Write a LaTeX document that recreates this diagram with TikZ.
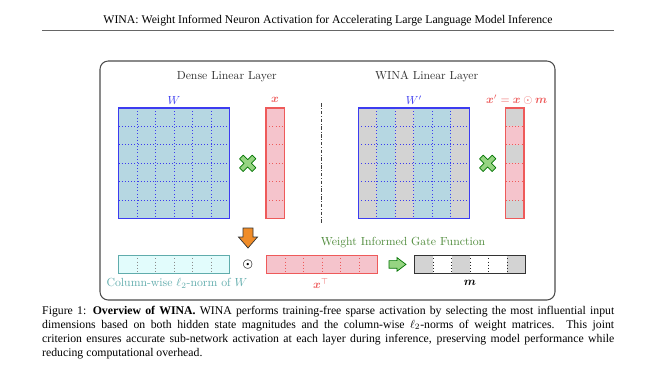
\documentclass[tikz,border=0pt]{standalone}
\usepackage{amsmath}
\usepackage{amsfonts}
\usepackage{bm}
\usepackage{fontspec}
\newfontfamily\timesfont{Liberation Serif}
\usetikzlibrary{positioning}

\definecolor{wblue}{RGB}{60,60,240}
\definecolor{wfill}{RGB}{182,215,226}
\definecolor{xred}{RGB}{238,90,90}
\definecolor{xfill}{RGB}{245,196,204}
\definecolor{maskgray}{RGB}{211,211,211}
\definecolor{normteal}{RGB}{96,172,172}
\definecolor{normfill}{RGB}{226,252,252}
\definecolor{gategreen}{RGB}{80,140,60}
\definecolor{crossfill}{RGB}{150,212,130}
\definecolor{arroworange}{RGB}{240,140,40}

\newlength\pxu
\setlength\pxu{0.851pt}

\tikzset{
  wmat/.style={draw=wblue,line width=0.9pt},
  wgrid/.style={wblue,dotted,line width=0.7pt},
  xmat/.style={draw=xred,line width=0.9pt},
  xgrid/.style={xred,dotted,line width=0.7pt},
  normmat/.style={draw=normteal,line width=0.9pt,fill=normfill},
  normgrid/.style={black!45,dotted,line width=0.7pt},
  mmat/.style={draw=black!80,line width=0.9pt},
  mgrid/.style={black!85,dotted,line width=0.7pt},
  mulsign/.style={draw=green!45!black,fill=crossfill,line width=0.6pt,line join=round},
  blockarrow/.style={line width=0.6pt,line join=miter}
}

% fat multiplication cross
\newcommand\timesmark[2]{%
  \draw[mulsign,shift={(#1,#2)},rotate=45]
    (-2.6,-9) -- (2.6,-9) -- (2.6,-2.6) -- (9,-2.6) -- (9,2.6) -- (2.6,2.6)
    -- (2.6,9) -- (-2.6,9) -- (-2.6,2.6) -- (-9,2.6) -- (-9,-2.6) -- (-2.6,-2.6) -- cycle;}

\begin{document}
\begin{tikzpicture}[x=0.851pt,y=-0.851pt,every node/.style={inner sep=0pt}]
\useasboundingbox (0,0) rectangle (656,369);
\fill[white] (0,0) rectangle (656,369);

% page header
\node (header) at (328,21) {\timesfont\fontsize{10}{12}\selectfont WINA: Weight Informed Neuron Activation for Accelerating Large Language Model Inference};
\draw[black!60,line width=0.4pt] (42,30.5) coordinate (rl) -- (614,30.5) coordinate (rr);

% frame
\draw[black!70,line width=0.9pt,rounded corners=7pt] (100,61) rectangle (555,300);

\node[text=black!80] (dense) at (226.7,76.7) {Dense Linear Layer};
\node[text=black!80] (wina) at (426.7,76.7) {WINA Linear Layer};

% dense W
\fill[wfill] (118.5,108) rectangle (229.5,218.5);
\foreach \i in {1,...,5} {
  \draw[wgrid] (118.5+18.5*\i,108) -- (118.5+18.5*\i,218.5);
  \draw[wgrid] (118.5,108+18.42*\i) -- (229.5,108+18.42*\i);
}
\draw[wmat] (118.5,108) rectangle (229.5,218.5);
\node[text=wblue] (W) at (174,100) {$W$};

% dense x
\fill[xfill] (266,108) rectangle (284.3,218.5);
\foreach \i in {1,...,5}
  \draw[xgrid] (266,108+18.42*\i) -- (284.3,108+18.42*\i);
\draw[xmat] (266,108) rectangle (284.3,218.5);
\node[text=xred] (x) at (275,100) {$\bm{x}$};

\timesmark{247.7}{163.3}

% separator
\draw[black!75,line width=0.7pt,dash pattern=on 3pt off 1.5pt on 0.6pt off 1.5pt] (321,103) coordinate (s1) -- (321,224) coordinate (s2);

% WINA W'
\fill[wfill] (358.3,108) rectangle (469.3,218.5);
\foreach \c in {0,2,5}
  \fill[maskgray] (358.3+18.5*\c,108) rectangle (358.3+18.5*\c+18.5,218.5);
\foreach \i in {1,...,5} {
  \draw[wgrid] (358.3+18.5*\i,108) -- (358.3+18.5*\i,218.5);
  \draw[wgrid] (358.3,108+18.42*\i) -- (469.3,108+18.42*\i);
}
\draw[wmat] (358.3,108) rectangle (469.3,218.5);
\node[text=wblue] (Wp) at (414,100) {$W'$};

% WINA x'
\fill[xfill] (505.7,108) rectangle (524,218.5);
\foreach \r in {0,2,5}
  \fill[maskgray] (505.7,108+18.42*\r) rectangle (524,108+18.42*\r+18.42);
\foreach \i in {1,...,5}
  \draw[xgrid] (505.7,108+18.42*\i) -- (524,108+18.42*\i);
\draw[xmat] (505.7,108) rectangle (524,218.5);
\node[text=xred] (xp) at (516.7,100) {$\bm{x}' = \bm{x} \odot \bm{m}$};

\timesmark{487.7}{163.3}

% gate row
\draw[normmat] (118.5,255.2) rectangle (229.5,273.6);
\foreach \i in {1,...,5}
  \draw[normgrid] (118.5+18.5*\i,255.2) -- (118.5+18.5*\i,273.6);
\draw[normmat,fill=none] (118.5,255.2) rectangle (229.5,273.6);
\node[text=normteal] (norm) at (177,283.5) {Column-wise $\ell_2$-norm of $W$};

\draw[blockarrow,draw=black!80,fill=arroworange]
  (243,228) -- (253,228) -- (253,237) -- (257.5,237) -- (248,248) -- (238.5,237) -- (243,237) -- cycle;
\node (odot) at (248,264.4) {$\bm{\odot}$};

\fill[xfill] (266.7,255.2) rectangle (377.9,273.6);
\foreach \i in {1,...,5}
  \draw[xgrid] (266.7+18.53*\i,255.2) -- (266.7+18.53*\i,273.6);
\draw[xmat] (266.7,255.2) rectangle (377.9,273.6);
\node[text=xred] (xT) at (321,284) {$\bm{x}^{\top}$};

\node[text=gategreen] (gate) at (403,242.8) {Weight Informed Gate Function};

\draw[blockarrow,draw=green!45!black,fill=crossfill]
  (389,260.6) -- (397,260.6) -- (397,257.6) -- (406,264.4) -- (397,271.2) -- (397,268.2) -- (389,268.2) -- cycle;

\fill[white] (414.7,255.2) rectangle (525.8,273.6);
\foreach \c in {0,2,5}
  \fill[maskgray] (414.7+18.52*\c,255.2) rectangle (414.7+18.52*\c+18.52,273.6);
\foreach \i in {1,...,5}
  \draw[mgrid] (414.7+18.52*\i,255.2) -- (414.7+18.52*\i,273.6);
\draw[mmat] (414.7,255.2) rectangle (525.8,273.6);
\node (m) at (470,283) {$\bm{m}$};

% caption
\node[anchor=north west,text width=572\pxu,align=justify] (caption) at (42,305.5)
  {\timesfont\fontsize{10}{13}\selectfont Figure 1: \textbf{Overview of WINA.} WINA performs training-free sparse activation by selecting the most influential input\linebreak
  dimensions based on both hidden state magnitudes and the column-wise $\ell_2$-norms of weight matrices.  This joint\linebreak
  criterion ensures accurate sub-network activation at each layer during inference, preserving model performance while\linebreak
  reducing computational overhead.};
\end{tikzpicture}
\end{document}
